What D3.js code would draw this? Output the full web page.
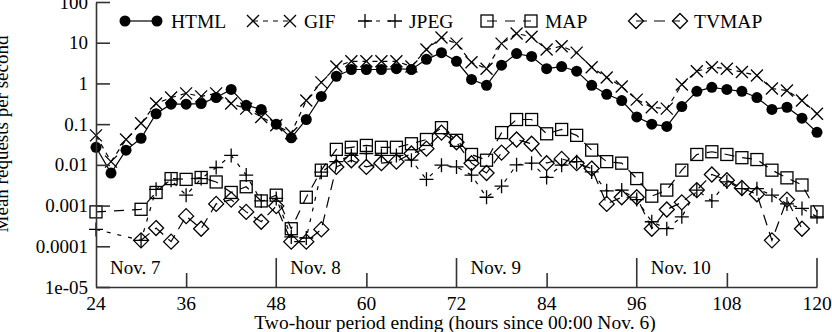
<!DOCTYPE html>
<html>
<head>
<meta charset="utf-8">
<script src="https://cdn.jsdelivr.net/npm/d3@7"></script>
<style>
body { margin: 0; background: #fff; }
svg text { font-family: "Liberation Serif", "Times New Roman", serif; fill: #000; }
</style>
</head>
<body>
<div id="chart"></div>
<script>
// hours (end of two-hour period, since 00:00 Nov. 6)
var hours = d3.range(24, 121, 2);

var html = [0.027, 0.0063, 0.023, 0.045, 0.18, 0.31, 0.31, 0.32, 0.45, 0.71, 0.29, 0.23, 0.1,
	0.046, 0.13, 0.48, 1.5, 2.2, 2.2, 2.2, 2.3, 2.2, 3.9, 5.7, 3.5, 1.25, 0.9, 2.8, 5.4, 4.6,
	2.3, 2.6, 2.0, 0.9, 0.54, 0.38, 0.15, 0.1, 0.088, 0.27, 0.64, 0.8, 0.71, 0.64, 0.45, 0.23,
	0.26, 0.14, 0.063];
var gif = [0.053, 0.012, 0.042, 0.105, 0.32, 0.45, 0.57, 0.48, 0.57, 0.32, 0.24, 0.15, 0.094,
	0.06, 0.38, 1.06, 2.6, 3.5, 3.5, 3.5, 3.5, 2.6, 6.8, 13.4, 9.5, 3.3, 2.3, 9.5, 16.8, 14,
	6.8, 8.2, 5.7, 2.5, 1.4, 0.84, 0.4, 0.26, 0.24, 0.94, 2.0, 2.5, 2.3, 1.9, 1.57, 0.75,
	0.67, 0.38, 0.18];
var jpeg = [0.00026, null, null, 0.00014, 0.0025, 0.0042, 0.0018, 0.0046, 0.0086, 0.017, 0.0056, 0.0013, 0.0015,
	0.00017, 0.00016, 0.0066, 0.012, 0.017, 0.019, 0.017, 0.017, 0.013, 0.0044, 0.0098, 0.0089, 0.0056, 0.0016, 0.003, 0.01, 0.011,
	0.0049, 0.0098, 0.012, 0.0067, 0.0023, 0.0024, 0.0014, 0.0004, 0.00027, 0.00053, 0.0024, 0.0013, 0.0038, 0.0026, 0.0026, 0.0018,
	0.0011, 0.00085, 0.00053];
var map = [0.0007, null, null, 0.00081, 0.0021, 0.0046, 0.0044, 0.0049, 0.0038, 0.0021, 0.0029, 0.0013, 0.0018,
	0.00027, 0.0016, 0.0074, 0.024, 0.027, 0.03, 0.027, 0.027, 0.033, 0.042, 0.082, 0.04, 0.018, 0.013, 0.062, 0.13, 0.13,
	0.058, 0.074, 0.053, 0.023, 0.012, 0.011, 0.0046, 0.0017, 0.0024, 0.0074, 0.018, 0.021, 0.018, 0.015, 0.0135, 0.0074,
	0.0048, 0.0032, 0.0007];
var tvmap = [null, null, null, 0.00014, 0.00028, 0.00013, 0.00055, 0.00027, 0.0011, 0.0014, 0.0007, 0.0004, 0.00097,
	0.00013, 0.00013, 0.00026, 0.0089, 0.013, 0.0089, 0.011, 0.012, 0.019, 0.025, 0.062, 0.036, 0.011, 0.0063, 0.02, 0.042, 0.033,
	0.011, 0.014, 0.011, 0.0081, 0.0011, 0.0016, 0.0016, 0.00027, 0.0008, 0.0012, 0.0024, 0.0058, 0.0042, 0.0027, 0.0019, 0.00014,
	0.0014, 0.00027, null];

var xTicks = [24, 36, 48, 60, 72, 84, 96, 108, 120];
var dayBounds = [48, 72, 96, 120];
var dayStarts = [24, 48, 72, 96];
var dayLabels = ["Nov. 7", "Nov. 8", "Nov. 9", "Nov. 10"];
var yTicks = [1e-5, 1e-4, 1e-3, 1e-2, 0.1, 1, 10, 100];
var yTickLabels = ["1e-05", "0.0001", "0.001", "0.01", "0.1", "1", "10", "100"];

var width = 832, height = 332;
var margin = {top: 2, right: 15, bottom: 45, left: 96};

var svg = d3.select("#chart")
			.append("svg")
			.attr("width", width)
			.attr("height", height);

var x = d3.scaleLinear()
			.domain([24, 120])
			.range([margin.left, width - margin.right]);

var y = d3.scaleLog()
			.domain([1e-5, 100])
			.range([height - margin.bottom, margin.top]);

var series = [
	{name: "HTML", values: html, marker: "circle", dash: null, lx: [125, 157]},
	{name: "GIF", values: gif, marker: "cross", dash: "5,5", lx: [253, 290]},
	{name: "JPEG", values: jpeg, marker: "plus", dash: "4,7", lx: [365, 395]},
	{name: "MAP", values: map, marker: "square", dash: "10,8", lx: [487, 531]},
	{name: "TVMAP", values: tvmap, marker: "diamond", dash: "11,7", lx: [636, 680]}
];

function drawMarker(g, type, cx, cy) {
	if (type == "circle") {
		g.append("circle").attr("cx", cx).attr("cy", cy).attr("r", 5.5).attr("fill", "#000");
	} else if (type == "cross") {
		g.append("path").attr("d", `M${cx-6},${cy-6}L${cx+6},${cy+6}M${cx-6},${cy+6}L${cx+6},${cy-6}`)
			.attr("stroke", "#000").attr("stroke-width", 1.3).attr("fill", "none");
	} else if (type == "plus") {
		g.append("path").attr("d", `M${cx-7},${cy}L${cx+7},${cy}M${cx},${cy-7}L${cx},${cy+7}`)
			.attr("stroke", "#000").attr("stroke-width", 1.3).attr("fill", "none");
	} else if (type == "square") {
		g.append("rect").attr("x", cx-6).attr("y", cy-6).attr("width", 12).attr("height", 12)
			.attr("stroke", "#000").attr("stroke-width", 1.3).attr("fill", "none");
	} else if (type == "diamond") {
		g.append("path").attr("d", `M${cx},${cy-7.5}L${cx+7.5},${cy}L${cx},${cy+7.5}L${cx-7.5},${cy}Z`)
			.attr("stroke", "#000").attr("stroke-width", 1.3).attr("fill", "none");
	}
}

var line = d3.line()
			.x(d => x(d.h))
			.y(d => y(d.v));

series.forEach(s => {
	var pts = hours.map((h, i) => ({h: h, v: s.values[i]})).filter(d => d.v != null);
	var g = svg.append("g");
	g.append("path")
		.attr("d", line(pts))
		.attr("fill", "none")
		.attr("stroke", "#000")
		.attr("stroke-width", 1.2)
		.attr("stroke-dasharray", s.dash);
	pts.forEach(d => drawMarker(g, s.marker, x(d.h), y(d.v)));

	// legend
	var lg = svg.append("g");
	lg.append("line")
		.attr("x1", s.lx[0]).attr("x2", s.lx[1])
		.attr("y1", 21).attr("y2", 21)
		.attr("stroke", "#000").attr("stroke-width", 1.2)
		.attr("stroke-dasharray", s.dash);
	drawMarker(lg, s.marker, s.lx[0], 21);
	drawMarker(lg, s.marker, s.lx[1], 21);
	lg.append("text")
		.attr("x", s.lx[1] + 14)
		.attr("y", 28)
		.attr("font-size", 19.5)
		.text(s.name);
});

// axes
var yAxis = g => g.attr("transform", `translate(${margin.left},0)`)
					.call(d3.axisRight(y).tickValues(yTicks).tickFormat("").tickSize(14).tickSizeOuter(0))
					.call(g => g.selectAll("line,path").attr("stroke", "#333").attr("stroke-width", 1.6));

var xAxis = g => g.attr("transform", `translate(0,${height - margin.bottom})`)
					.call(d3.axisTop(x).tickValues([36, 60, 84, 108]).tickFormat("").tickSize(14).tickSizeOuter(0))
					.call(g => g.selectAll("line,path").attr("stroke", "#333").attr("stroke-width", 1.6));

svg.append("g").call(yAxis);
svg.append("g").call(xAxis);

// day boundaries
svg.append("g")
	.selectAll("line")
	.data(dayBounds)
	.join("line")
	.attr("x1", d => x(d)).attr("x2", d => x(d))
	.attr("y1", y(1e-5)).attr("y2", y(1e-5) - 29)
	.attr("stroke", "#333").attr("stroke-width", 1.6);

svg.append("g")
	.selectAll("text")
	.data(dayStarts)
	.join("text")
	.attr("x", d => x(d) + 14)
	.attr("y", 274)
	.attr("font-size", 19)
	.text((d, i) => dayLabels[i]);

// tick labels
svg.append("g")
	.selectAll("text")
	.data(yTicks)
	.join("text")
	.attr("x", margin.left - 8)
	.attr("y", d => y(d) + 6.5)
	.attr("text-anchor", "end")
	.attr("font-size", 19)
	.text((d, i) => yTickLabels[i]);

svg.append("g")
	.selectAll("text")
	.data(xTicks)
	.join("text")
	.attr("x", d => x(d))
	.attr("y", 310)
	.attr("text-anchor", "middle")
	.attr("font-size", 19.5)
	.text(d => d);

svg.append("text")
	.attr("x", 455)
	.attr("y", 329)
	.attr("text-anchor", "middle")
	.attr("font-size", 19.5)
	.text("Two-hour period ending (hours since 00:00 Nov. 6)");

svg.append("text")
	.attr("transform", "translate(8,134) rotate(-90)")
	.attr("text-anchor", "middle")
	.attr("font-size", 19)
	.text("Mean requests per second");
</script>
</body>
</html>
